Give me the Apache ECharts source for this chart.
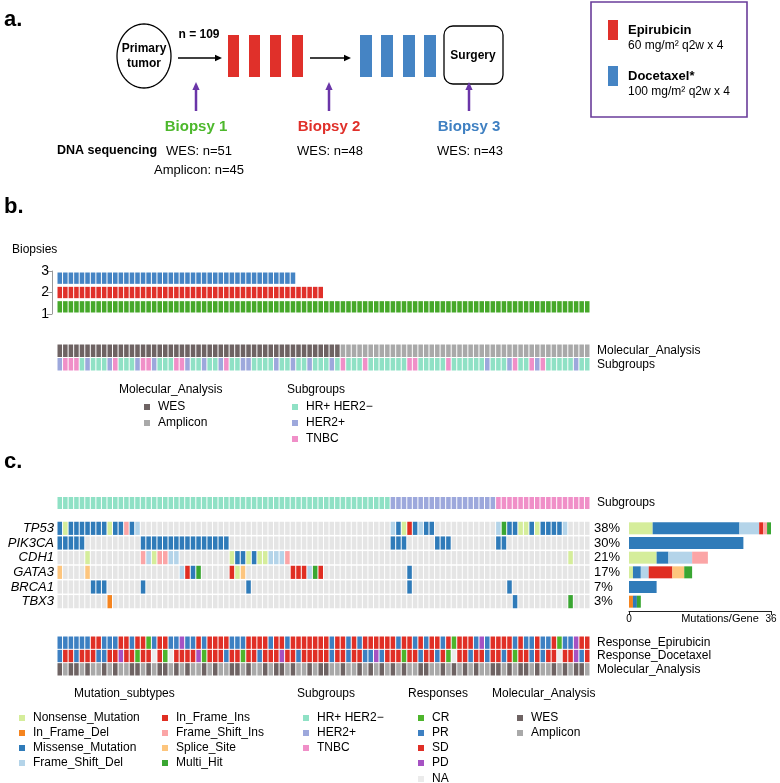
<!DOCTYPE html>
<html><head><meta charset="utf-8">
<script src="https://cdn.jsdelivr.net/npm/echarts@6/dist/echarts.min.js"></script>
<style>html,body{margin:0;padding:0;background:#fff}#c{width:780px;height:783px}</style>
</head><body><div id="c"></div>
<script>
// ---------------- DATA ----------------
const nSamples = 96;
const biopsyLevels = ['1', '2', '3'];
const biopsyCounts = [96, 48, 43];           // samples sequenced at biopsy 1, 2, 3
const molecularB = { WES: 51, Amplicon: 45 }; // panel b order: WES first
// panel b subgroups per sample: T = HR+ HER2-, H = HER2+, B = TNBC
const subgroupsB = ("HBBBTHTTTH" + "BTTTHBBHTT" + "TBBHTTHTTH" + "BTTHHTTTTH" + "TTHTTHTTTH" +
                    "TBTTTBTTTT" + "TTTBBTTTTT" + "BTTTTTTHTT" + "THBTTBHBTT" + "TTTHTT").split('');
// panel c subgroups (sorted)
const subgroupsCCounts = { T: 60, H: 19, B: 17 };

const genes = ['TP53', 'PIK3CA', 'CDH1', 'GATA3', 'BRCA1', 'TBX3'];
const geneFreqLabels = ['38%', '30%', '21%', '17%', '7%', '3%'];
// mutation codes: N Nonsense, D In_Frame_Del, M Missense, F Frame_Shift_Del,
// I In_Frame_Ins, J Frame_Shift_Ins, S Splice_Site, H Multi_Hit, . none
const mutTP53   = "MNMMMMMMMN" + "MMJMF....." + ".........." + ".........." + ".........." + ".........." + "FMNIMFMM.." + ".........F" + "HMMNNMNMMM" + "MF....";
const mutPIK3CA = "MMMMM....." + ".....MMMMM" + "MMMMMMMMMM" + "M........." + ".........." + ".........." + "MMM.....MM" + "M........M" + "M........." + "......";
const mutCDH1   = ".....N...." + ".....JFNJJ" + "FF........" + ".NMMNMNNFF" + "FJ........" + ".........." + ".........." + ".........." + ".........." + "..N...";
const mutGATA3  = "S....S...." + ".........." + "..FIMH...." + ".INS......" + "..IIIFHI.." + ".........." + "...M......" + ".........." + ".........." + "......";
const mutBRCA1  = "......MMM." + ".....M...." + ".........." + "....M....." + ".........." + ".........." + "...M......" + ".........." + ".M........" + "......";
const mutTBX3   = ".........D" + ".........." + ".........." + ".........." + ".........." + ".........." + ".........." + ".........." + "..M......." + "..H...";

// responses: C CR, P PR, S SD, D PD, N NA
const respEpirubicin = "PPPPPPSSPP" + "PSSPSSCPSS" + "PPDPPSPSSS" + "SPPPSSSSPS" + "SPSSSSSSSP" + "SSPSPSSSSS" + "SPSSPSPSSP" + "SCSSSPDPSS" + "SSPSPPSPPS" + "CPPDSS";
const respDocetaxel  = "PSSPSSSPPS" + "SDSSCSSNSC" + "NSSSSDCSSS" + "PSSCSSPSSS" + "DSSPSSSSSP" + "SSPSSPPDPS" + "SSCSSPSSPS" + "CNSSPSSPSS" + "PSCSSPSPSS" + "NSSDPS";
const molecularC     = "WAWWAWAAWA" + "WAAWWAWAWW" + "AWAWAAWAWA" + "AWWAWAAWAW" + "WAWAAWAWWA" + "AWAAWAWAWA" + "WAWAAWWAAW" + "AWAWAWAAWW" + "AWAWWAWAAW" + "AWAWWA";

const barMax = 36;

// ---------------- STYLE ----------------
const FONT = '"Liberation Sans", Arial, Helvetica, sans-serif';
const cBiopsy = { '1': '#46a82a', '2': '#e0302a', '3': '#4584c4' };
const cMol = { W: '#6e6363', A: '#a9a9a9' };
const cSub = { T: '#8fe1c5', H: '#9da8dc', B: '#f08fc8' };
const mutOrder = ['N', 'D', 'M', 'F', 'I', 'J', 'S', 'H'];
const mutNames = { N: 'Nonsense_Mutation', D: 'In_Frame_Del', M: 'Missense_Mutation', F: 'Frame_Shift_Del', I: 'In_Frame_Ins', J: 'Frame_Shift_Ins', S: 'Splice_Site', H: 'Multi_Hit' };
const cMut = { N: '#d5ed9b', D: '#f5841f', M: '#2f7bb9', F: '#b4d4e9', I: '#e02e22', J: '#fba5a6', S: '#fdc57d', H: '#3aa632' };
const cResp = { C: '#4db52c', P: '#3d80c2', S: '#e02f26', D: '#a652c3', N: '#ebebeb' };
const cEmpty = '#e5e5e5';

// ---------------- BUILD ----------------
const cats = Array.from({ length: nSamples }, (_, i) => String(i));
function tile(gridIdx, data, gx, gy) {
  return {
    type: 'custom', xAxisIndex: gridIdx.x, yAxisIndex: gridIdx.y, data: data, silent: true,
    renderItem: function (params, api) {
      const p = api.coord([api.value(0), api.value(1)]);
      const s = api.size([1, 1]);
      return { type: 'rect', shape: { x: p[0] - s[0] / 2 + gx / 2, y: p[1] - s[1] / 2 + gy / 2, width: s[0] - gx, height: s[1] - gy },
        style: { fill: api.visual('color') } };
    }
  };
}
function item(x, y, color) { return { value: [x, y], itemStyle: { color: color } }; }

const biopsyData = [];
biopsyLevels.forEach((lv, j) => { for (let i = 0; i < biopsyCounts[j]; i++) biopsyData.push(item(i, j, cBiopsy[lv])); });
const annB = [];
const molBArr = [];
Object.keys(molecularB).forEach(k => { for (let i = 0; i < molecularB[k]; i++) molBArr.push(k === 'WES' ? 'W' : 'A'); });
molBArr.forEach((m, i) => annB.push(item(i, 0, cMol[m])));
subgroupsB.forEach((s, i) => annB.push(item(i, 1, cSub[s])));
const subC = [];
let k0 = 0;
Object.keys(subgroupsCCounts).forEach(k => { for (let i = 0; i < subgroupsCCounts[k]; i++) { subC.push(item(k0, 0, cSub[k])); k0++; } });
const mutRows = [mutTP53, mutPIK3CA, mutCDH1, mutGATA3, mutBRCA1, mutTBX3].map(s => s.split(''));
const geneData = [];
mutRows.forEach((row, j) => row.forEach((m, i) => geneData.push(item(i, j, m === '.' ? cEmpty : cMut[m]))));
const annC = [];
[respEpirubicin, respDocetaxel].forEach((s, j) => s.split('').forEach((r, i) => annC.push(item(i, j, cResp[r]))));
molecularC.split('').forEach((m, i) => annC.push(item(i, 2, cMol[m])));

const barSeries = mutOrder.map(code => ({
  type: 'bar', stack: 'mut', xAxisIndex: 4, yAxisIndex: 6, barWidth: 12, silent: true,
  itemStyle: { color: cMut[code] },
  data: mutRows.map(row => row.filter(m => m === code).length)
}));

const L = 57, W = 533;
const grids = [
  { left: L, top: 271, width: W, height: 43 },
  { left: L, top: 344, width: W, height: 27 },
  { left: L, top: 497, width: W, height: 12 },
  { left: L, top: 521, width: W, height: 88 },
  { left: 629, top: 521, width: 142, height: 88 },
  { left: L, top: 636, width: W, height: 40 }
];
const hiddenCat = (g, data) => ({ type: 'category', gridIndex: g, data: data, show: false });
const xAxes = [hiddenCat(0, cats), hiddenCat(1, cats), hiddenCat(2, cats), hiddenCat(3, cats),
  { type: 'value', gridIndex: 4, min: 0, max: barMax, interval: barMax, position: 'bottom', offset: 2,
    axisLine: { show: true, lineStyle: { color: '#222', width: 1 } }, axisTick: { show: true, length: 4, lineStyle: { color: '#222' } },
    splitLine: { show: false }, axisLabel: { fontSize: 10, color: '#000', fontFamily: FONT, margin: 3 } },
  hiddenCat(5, cats)];
const rightLab = (g, data) => ({ type: 'category', gridIndex: g, data: data, inverse: true, position: 'right',
  axisLine: { show: false }, axisTick: { show: false }, axisLabel: { interval: 0, fontSize: 12, color: '#000', fontFamily: FONT, margin: 7 } });
const yAxes = [
  hiddenCat(0, biopsyLevels),
  { type: 'value', gridIndex: 0, min: 1, max: 3, interval: 1, position: 'left', offset: 5,
    axisLine: { show: true, lineStyle: { color: '#999' } }, axisTick: { show: true, length: 5, lineStyle: { color: '#999' } },
    splitLine: { show: false }, axisLabel: { fontSize: 14, color: '#000', fontFamily: FONT, margin: 3 } },
  rightLab(1, ['Molecular_Analysis', 'Subgroups']),
  rightLab(2, ['Subgroups']),
  { type: 'category', gridIndex: 3, data: genes, inverse: true, position: 'left', axisLine: { show: false }, axisTick: { show: false },
    axisLabel: { interval: 0, fontSize: 13, fontStyle: 'italic', color: '#000', fontFamily: FONT, margin: 3 } },
  { type: 'category', gridIndex: 3, data: geneFreqLabels, inverse: true, position: 'right', axisLine: { show: false }, axisTick: { show: false },
    axisLabel: { interval: 0, fontSize: 13, color: '#000', fontFamily: FONT, margin: 4 } },
  hiddenCat(4, genes),
  rightLab(5, ['Response_Epirubicin', 'Response_Docetaxel', 'Molecular_Analysis'])
];
yAxes[6].inverse = true;

// ---------------- GRAPHIC (schematic + legends) ----------------
function T(x, y, text, o) {
  o = o || {};
  return { type: 'text', x: x, y: y, silent: true, style: { text: text, fill: o.color || '#000',
    font: (o.bold ? 'bold ' : '') + (o.size || 12) + 'px ' + FONT,
    align: o.align || 'left', verticalAlign: 'middle', textAlign: o.align || 'left', textVerticalAlign: 'middle' } };
}
function R(x, y, w, h, color, o) {
  o = o || {};
  return { type: 'rect', silent: true, shape: { x: x, y: y, width: w, height: h, r: o.r || 0 },
    style: o.stroke ? { fill: o.fill || 'none', stroke: o.stroke, lineWidth: o.lw || 1 } : { fill: color } };
}
function arrow(x1, y1, x2, y2, color, lw, hs) {
  const a = Math.atan2(y2 - y1, x2 - x1);
  const bx = x2 - hs * Math.cos(a), by = y2 - hs * Math.sin(a);
  const px = Math.sin(a) * hs * 0.45, py = -Math.cos(a) * hs * 0.45;
  return [
    { type: 'line', silent: true, shape: { x1: x1, y1: y1, x2: bx, y2: by }, style: { stroke: color, lineWidth: lw } },
    { type: 'polygon', silent: true, shape: { points: [[x2, y2], [bx + px, by + py], [bx - px, by - py]] }, style: { fill: color } }
  ];
}
const G = [];
G.push(T(4, 20, 'a.', { bold: true, size: 22 }));
const ell = [];
for (let t = 0; t < 72; t++) { const a = t / 72 * Math.PI * 2; ell.push([144 + 27 * Math.cos(a), 56 + 32 * Math.sin(a)]); }
G.push({ type: 'polygon', silent: true, shape: { points: ell }, style: { fill: 'none', stroke: '#000', lineWidth: 1.3 } });
G.push(T(144, 49, 'Primary', { bold: true, size: 12, align: 'center' }));
G.push(T(144, 64, 'tumor', { bold: true, size: 12, align: 'center' }));
G.push(T(199, 35, 'n = 109', { bold: true, size: 12, align: 'center' }));
G.push(...arrow(178, 58, 222, 58, '#000', 1.6, 7));
[228, 249, 270, 292].forEach(x => G.push(R(x, 35, 11, 42, '#e0302a')));
G.push(...arrow(310, 58, 351, 58, '#000', 1.6, 7));
[360, 381, 403, 424].forEach(x => G.push(R(x, 35, 12, 42, '#4584c4')));
G.push(R(444, 26, 59, 58, null, { stroke: '#000', lw: 1.3, r: 9 }));
G.push(T(473, 56, 'Surgery', { bold: true, size: 12, align: 'center' }));
[196, 329, 469].forEach(x => G.push(...arrow(x, 111, x, 82, '#6a35a8', 2.5, 8)));
G.push(T(196, 127, 'Biopsy 1', { bold: true, size: 15, align: 'center', color: '#4db82c' }));
G.push(T(329, 127, 'Biopsy 2', { bold: true, size: 15, align: 'center', color: '#e0302a' }));
G.push(T(469, 127, 'Biopsy 3', { bold: true, size: 15, align: 'center', color: '#3f80c2' }));
G.push(T(57, 151, 'DNA sequencing', { bold: true, size: 12.5 }));
G.push(T(199, 151, 'WES: n=51', { size: 13, align: 'center' }));
G.push(T(199, 170, 'Amplicon: n=45', { size: 13, align: 'center' }));
G.push(T(330, 151, 'WES: n=48', { size: 13, align: 'center' }));
G.push(T(470, 151, 'WES: n=43', { size: 13, align: 'center' }));
G.push(R(591, 2, 156, 115, null, { stroke: '#6a3d9a', lw: 1.6 }));
G.push(R(608, 20, 10, 20, '#e0302a'));
G.push(T(628, 30, 'Epirubicin', { bold: true, size: 13 }));
G.push(T(628, 46, '60 mg/m² q2w x 4', { size: 12 }));
G.push(R(608, 66, 10, 20, '#4584c4'));
G.push(T(628, 76, 'Docetaxel*', { bold: true, size: 13 }));
G.push(T(628, 92, '100 mg/m² q2w x 4', { size: 12 }));
G.push(T(4, 207, 'b.', { bold: true, size: 22 }));
G.push(T(12, 250, 'Biopsies', { size: 12 }));
G.push(T(119, 390, 'Molecular_Analysis', { size: 12 }));
G.push(R(144, 404, 6, 6, cMol.W)); G.push(T(158, 407, 'WES', { size: 12 }));
G.push(R(144, 420, 6, 6, cMol.A)); G.push(T(158, 423, 'Amplicon', { size: 12 }));
G.push(T(287, 390, 'Subgroups', { size: 12 }));
[['T', 'HR+ HER2−'], ['H', 'HER2+'], ['B', 'TNBC']].forEach((s, i) => {
  G.push(R(292, 404 + 16 * i, 6, 6, cSub[s[0]])); G.push(T(306, 407 + 16 * i, s[1], { size: 12 }));
});
G.push(T(4, 462, 'c.', { bold: true, size: 22 }));
G.push(T(720, 619, 'Mutations/Gene', { size: 11, align: 'center' }));
const ly = [718, 733, 748, 763, 779];
G.push(T(74, 694, 'Mutation_subtypes', { size: 12 }));
mutOrder.forEach((c, i) => {
  const col = i < 4 ? 0 : 1, r = i % 4;
  const sx = col === 0 ? 19 : 162, tx = col === 0 ? 33 : 176;
  G.push(R(sx, ly[r] - 3, 6, 6, cMut[c])); G.push(T(tx, ly[r], mutNames[c], { size: 12 }));
});
G.push(T(297, 694, 'Subgroups', { size: 12 }));
[['T', 'HR+ HER2−'], ['H', 'HER2+'], ['B', 'TNBC']].forEach((s, i) => {
  G.push(R(303, ly[i] - 3, 6, 6, cSub[s[0]])); G.push(T(317, ly[i], s[1], { size: 12 }));
});
G.push(T(408, 694, 'Responses', { size: 12 }));
[['C', 'CR'], ['P', 'PR'], ['S', 'SD'], ['D', 'PD'], ['N', 'NA']].forEach((s, i) => {
  G.push(R(418, ly[i] - 3, 6, 6, cResp[s[0]])); G.push(T(432, ly[i], s[1], { size: 12 }));
});
G.push(T(492, 694, 'Molecular_Analysis', { size: 12 }));
G.push(R(517, ly[0] - 3, 6, 6, cMol.W)); G.push(T(531, ly[0], 'WES', { size: 12 }));
G.push(R(517, ly[1] - 3, 6, 6, cMol.A)); G.push(T(531, ly[1], 'Amplicon', { size: 12 }));

const option = {
  animation: false,
  backgroundColor: '#fff',
  grid: grids,
  xAxis: xAxes,
  yAxis: yAxes,
  graphic: G,
  series: [
    tile({ x: 0, y: 0 }, biopsyData, 1, 3),
    tile({ x: 1, y: 2 }, annB, 1, 1),
    tile({ x: 2, y: 3 }, subC, 1, 0),
    tile({ x: 3, y: 4 }, geneData, 1, 1.5),
    tile({ x: 5, y: 7 }, annC, 1, 1)
  ].concat(barSeries)
};
const chart = echarts.init(document.getElementById('c'), null, { renderer: 'canvas' });
chart.setOption(option);
</script></body></html>
